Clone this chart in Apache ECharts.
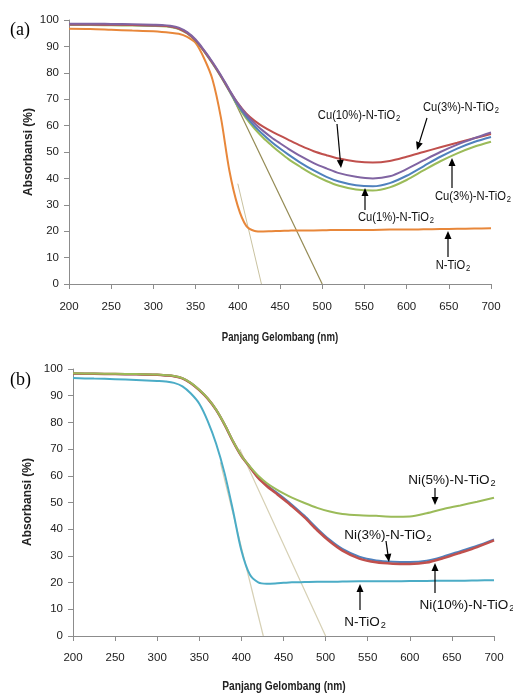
<!DOCTYPE html>
<html><head><meta charset="utf-8">
<script src="https://cdn.jsdelivr.net/npm/echarts/dist/echarts.min.js"></script>
<style>html,body{margin:0;padding:0;background:#fff}#c{width:513px;height:695px}</style>
</head><body><div id="c"></div><script>
// ---------- data ----------
const wavelengths = [200, 225, 250, 275, 300, 310, 320, 330, 340, 350, 360, 370, 380, 390, 400, 410, 420, 430, 440, 450, 460, 475, 490, 505, 520, 540, 560, 580, 600, 620, 640, 660, 680, 700];
const xTicks = [200, 250, 300, 350, 400, 450, 500, 550, 600, 650, 700];
const yTicks = [0, 10, 20, 30, 40, 50, 60, 70, 80, 90, 100];

// (a) Cu series
const a_NTiO2  = [96.7, 96.6, 96.3, 96.0, 95.7, 95.5, 95.2, 94.8, 93.6, 91.3, 85.5, 77.5, 63, 43, 29.5, 22, 20.1, 19.9, 20, 20.1, 20.2, 20.3, 20.3, 20.4, 20.5, 20.5, 20.5, 20.6, 20.6, 20.7, 20.8, 20.9, 21, 21.1];
const a_Cu3top = [98.3, 98.3, 98.2, 98.1, 97.9, 97.8, 97.5, 96.8, 95.1, 92.3, 88.3, 83.8, 78.8, 73.4, 68.5, 64.6, 61.8, 59.6, 57.8, 56.2, 54.6, 52.3, 50.3, 48.8, 47.5, 46.4, 46, 46.6, 48.2, 50, 51.8, 53.5, 55.2, 56.8];
const a_Cu10   = [98.6, 98.6, 98.5, 98.4, 98.2, 98.1, 97.8, 97.1, 95.4, 92.6, 88.6, 84.1, 79.1, 73.6, 68.4, 64.2, 60.8, 58, 55.5, 53.3, 51.2, 48.3, 45.8, 43.8, 42, 40.6, 40, 40.8, 43.5, 46.8, 50, 52.8, 55.2, 57.4];
const a_Cu1    = [98.3, 98.3, 98.2, 98.1, 97.9, 97.8, 97.5, 96.8, 95.1, 92.3, 88.3, 83.7, 78.7, 73.2, 67.8, 63.4, 59.7, 56.6, 53.8, 51.3, 49, 45.8, 43, 40.6, 38.8, 37.4, 37, 38.2, 41, 44.6, 48.2, 51.3, 53.8, 55.7];
const a_Cu3low = [98.1, 98.1, 98, 97.9, 97.7, 97.6, 97.3, 96.6, 94.9, 92.1, 88.1, 83.5, 78.5, 73, 67.3, 62.7, 58.8, 55.4, 52.5, 49.8, 47.3, 44.2, 41.3, 39, 37.2, 35.8, 35.4, 36.6, 39.4, 43, 46.5, 49.5, 52, 53.9];
const a_tangent1 = [[400, 38], [428, 0]];
const a_tangent2 = [[395, 70], [500, 0]];

// (b) Ni series
const b_NTiO2  = [96.6, 96.4, 96.2, 95.9, 95.5, 95.3, 94.8, 93.5, 90.8, 87, 80.5, 72, 61, 47, 32, 23, 20.1, 19.6, 19.7, 19.9, 20.1, 20.2, 20.3, 20.3, 20.4, 20.5, 20.5, 20.5, 20.6, 20.6, 20.7, 20.7, 20.8, 20.9];
const b_Ni5    = [98.4, 98.3, 98.2, 98.1, 97.9, 97.7, 97.4, 96.6, 94.8, 92.2, 89, 84.8, 79.3, 73, 67.5, 63.5, 60, 57.3, 55.2, 53.4, 51.8, 49.8, 48, 46.6, 45.7, 45.2, 45, 44.7, 44.8, 46, 47.6, 48.9, 50.3, 51.8];
const b_Ni3    = [98.3, 98.2, 98.1, 98, 97.8, 97.6, 97.3, 96.5, 94.7, 92.1, 88.9, 84.7, 79.2, 72.9, 67.4, 63.3, 59.3, 56.5, 54.2, 51.8, 49.2, 45, 40.3, 36, 32.6, 29.7, 28.3, 27.8, 27.7, 28.2, 29.8, 31.8, 33.8, 36.2];
const b_Ni10   = [98.3, 98.2, 98.1, 98, 97.8, 97.6, 97.3, 96.5, 94.7, 92.1, 88.9, 84.7, 79.2, 72.9, 67.4, 63.3, 59.2, 56.2, 53.7, 51.2, 48.6, 44.4, 39.6, 35.4, 32, 29, 27.6, 27.1, 27, 27.5, 29.2, 31.2, 33.3, 35.8];
const b_tangent1 = [[375, 65], [426, 0]];
const b_tangent2 = [[398, 70], [500, 0]];

// ---------- chart ----------
const zip = v => wavelengths.map((w, i) => [w, v[i]]);
const sans = '"Liberation Sans","Arial",sans-serif';
const serif = '"Liberation Serif","DejaVu Serif",serif';

function xAxisFor(gi, margin) {
  return {
    gridIndex: gi, type: 'value', min: 200, max: 700, interval: 50,
    axisLine: { show: true, lineStyle: { color: '#8c8c8c', width: 1 } },
    axisTick: { show: true, inside: false, length: 5, lineStyle: { color: '#8c8c8c' } },
    axisLabel: { fontFamily: sans, fontSize: 11.5, color: '#222', margin: margin,
      formatter: v => xTicks.includes(v) ? String(v) : '' },
    splitLine: { show: false }
  };
}
function yAxisFor(gi) {
  return {
    gridIndex: gi, type: 'value', min: 0, max: 100, interval: 10,
    axisLine: { show: true, lineStyle: { color: '#8c8c8c', width: 1 } },
    axisTick: { show: true, inside: false, length: 5, lineStyle: { color: '#8c8c8c' } },
    axisLabel: { fontFamily: sans, fontSize: 11.5, color: '#222', margin: 10,
      formatter: v => yTicks.includes(v) ? String(v) : '' },
    splitLine: { show: false }
  };
}
function curve(gi, data, color, w) {
  return { type: 'line', xAxisIndex: gi, yAxisIndex: gi, data: data, showSymbol: false,
    smooth: 0.3, lineStyle: { color: color, width: w || 2 }, silent: true, z: 3 };
}
function straight(gi, data, color, w) {
  return { type: 'line', xAxisIndex: gi, yAxisIndex: gi, data: data, showSymbol: false,
    lineStyle: { color: color, width: w || 1 }, silent: true, z: 2 };
}

function arrow(x1, y1, x2, y2) {
  const dx = x2 - x1, dy = y2 - y1, L = Math.hypot(dx, dy), ux = dx / L, uy = dy / L;
  const hl = 8, hw = 3.5, bx = x2 - ux * hl, by = y2 - uy * hl;
  return [
    { type: 'line', shape: { x1: x1, y1: y1, x2: bx, y2: by }, style: { stroke: '#000', lineWidth: 1.2 }, z: 10 },
    { type: 'polygon', shape: { points: [[x2, y2], [bx - uy * hw, by + ux * hw], [bx + uy * hw, by - ux * hw]] }, style: { fill: '#000' }, z: 10 }
  ];
}
function label(text, x, y, size, sx) {
  return { type: 'text', x: x, y: y, z: 10, scaleX: sx || 1,
    style: { text: '{a|' + text + '}{s|2}', align: 'center', verticalAlign: 'middle',
      rich: {
        a: { fontFamily: sans, fontSize: size, lineHeight: size + 3, fill: '#111' },
        s: { fontFamily: sans, fontSize: size * 0.68, lineHeight: size * 0.68, verticalAlign: 'bottom', fill: '#111', padding: [0, 0, 0, 1] }
      } } };
}
function plain(text, x, y, font, opts) {
  return Object.assign({ type: 'text', x: x, y: y, z: 10,
    style: { text: text, font: font, fill: '#222', align: 'center', verticalAlign: 'middle' } }, opts || {});
}

const graphics = [
  { type: 'text', x: 10, y: 30, style: { text: '(a)', font: '18px ' + serif, fill: '#000', verticalAlign: 'middle' } },
  { type: 'text', x: 10, y: 380, style: { text: '(b)', font: '18px ' + serif, fill: '#000', verticalAlign: 'middle' } },
  plain('Panjang Gelombang (nm)', 280, 338, 'bold 12px ' + sans, { scaleX: 0.8 }),
  plain('Panjang Gelombang (nm)', 284, 687, 'bold 12px ' + sans, { scaleX: 0.85 }),
  plain('Absorbansi (%)', 29, 152, 'bold 12px ' + sans, { rotation: Math.PI / 2 }),
  plain('Absorbansi (%)', 28, 502, 'bold 12px ' + sans, { rotation: Math.PI / 2 }),
  label('Cu(10%)-N-TiO', 359, 115, 13, 0.86), ...arrow(337, 124, 341, 168),
  label('Cu(3%)-N-TiO', 461, 107, 13, 0.86), ...arrow(427, 118, 417, 150),
  label('Cu(3%)-N-TiO', 473, 196, 13, 0.86), ...arrow(452, 188, 452, 158),
  label('Cu(1%)-N-TiO', 396, 217, 13, 0.86), ...arrow(365, 210, 365, 188),
  label('N-TiO', 453, 265, 13, 0.86), ...arrow(448, 257, 448, 231),
  label('Ni(5%)-N-TiO', 452, 480, 13.5), ...arrow(435, 488, 435, 505),
  label('Ni(3%)-N-TiO', 388, 535, 13.5), ...arrow(386, 541, 389, 562),
  label('Ni(10%)-N-TiO', 467, 605, 13.5), ...arrow(435, 593, 435, 563),
  label('N-TiO', 365, 622, 13.5), ...arrow(360, 610, 360, 584)
];

const chart = echarts.init(document.getElementById('c'), null, { renderer: 'canvas' });
chart.setOption({
  animation: false,
  backgroundColor: '#fff',
  grid: [
    { left: 69, width: 422, top: 20, height: 264, containLabel: false },
    { left: 73, width: 421, top: 369, height: 267, containLabel: false }
  ],
  xAxis: [xAxisFor(0, 17), xAxisFor(1, 16)],
  yAxis: [yAxisFor(0), yAxisFor(1)],
  series: [
    straight(0, a_tangent1, '#C9C2A0', 1),
    straight(0, a_tangent2, '#948A54', 1.2),
    curve(0, zip(a_NTiO2), '#E8873A'),
    curve(0, zip(a_Cu3low), '#9BBB59'),
    curve(0, zip(a_Cu1), '#4F81BD'),
    curve(0, zip(a_Cu3top), '#C0504D'),
    curve(0, zip(a_Cu10), '#8064A2'),
    straight(1, b_tangent1, '#D6D0B4', 1.2),
    straight(1, b_tangent2, '#D6D0B4', 1.2),
    curve(1, zip(b_NTiO2), '#4BACC6'),
    curve(1, zip(b_Ni3), '#4F81BD', 2),
    curve(1, zip(b_Ni10), '#C0504D', 2.5),
    curve(1, zip(b_Ni5), '#9BBB59')
  ],
  graphic: graphics
});
</script></body></html>
